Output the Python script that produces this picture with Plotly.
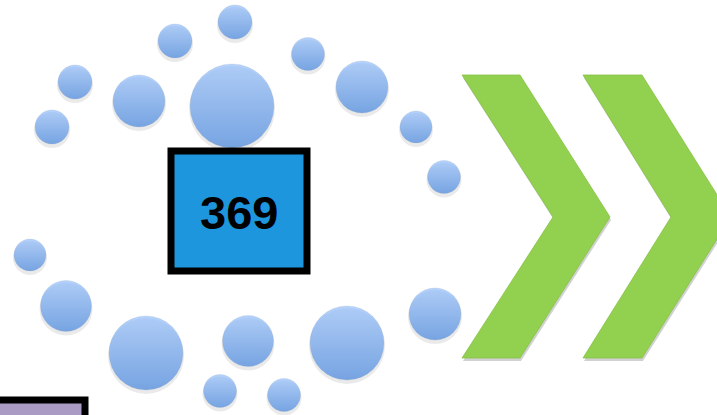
import plotly.graph_objects as go

W, H = 717, 415

# bubbles: centre x, centre y, radius (pixels)
bubble_x = [235, 175, 308, 75, 139, 232, 362, 52, 416, 444, 30, 66, 435, 146, 248, 347, 220, 284]
bubble_y = [22, 41, 54, 82, 101, 106, 87, 127, 127, 177, 255, 306, 314, 353, 341, 343, 391, 395]
bubble_r = [17, 17, 16.5, 17, 26, 42, 26, 17, 16, 16.5, 16, 25.5, 26, 37, 25.5, 37, 16.5, 16.5]

# chevrons: outline points
chevron1_x = [462, 520, 610, 520, 462, 553, 462]
chevron1_y = [75, 75, 217, 358, 358, 217, 75]
chevron2_x = [583, 642, 731, 642, 583, 671, 583]
chevron2_y = [75, 75, 217, 358, 358, 217, 75]

box_label = "369"
box_x0, box_x1, box_y0, box_y1 = 171, 307, 151, 271
purple_x0, purple_x1, purple_y0, purple_y1 = -10, 85, 400, 430

fig = go.Figure()

# soft shadows under chevrons
for cx, cy in ((chevron1_x, chevron1_y), (chevron2_x, chevron2_y)):
    fig.add_trace(
        go.Scatter(
            x=[v + 1 for v in cx],
            y=[v + 3 for v in cy],
            mode="lines",
            fill="toself",
            fillcolor="rgba(0,0,0,0.18)",
            line=dict(width=0),
            hoverinfo="skip",
        )
    )
    fig.add_trace(
        go.Scatter(
            x=cx,
            y=cy,
            mode="lines",
            fill="toself",
            fillcolor="#92D050",
            line=dict(width=0.8, color="#86C244"),
            hoverinfo="skip",
        )
    )

# bubble shadows
fig.add_trace(
    go.Scatter(
        x=bubble_x,
        y=[y + 3 for y in bubble_y],
        mode="markers",
        marker=dict(size=[2 * r + 2 for r in bubble_r], color="rgba(0,0,0,0.12)", line=dict(width=0)),
        hoverinfo="skip",
    )
)
fig.add_trace(
    go.Scatter(
        x=bubble_x,
        y=bubble_y,
        mode="markers",
        marker=dict(
            size=[2 * r for r in bubble_r],
            color="#96C0FC",
            gradient=dict(type="vertical", color="#4687DF"),
            line=dict(width=0.5, color="rgba(110,130,160,0.4)"),
        ),
        hoverinfo="skip",
    )
)

fig.add_shape(
    type="rect",
    xref="x",
    yref="y",
    x0=box_x0,
    x1=box_x1,
    y0=box_y0,
    y1=box_y1,
    fillcolor="#1E96DD",
    line=dict(color="#000000", width=7),
    layer="above",
)
fig.add_shape(
    type="rect",
    xref="x",
    yref="y",
    x0=purple_x0,
    x1=purple_x1,
    y0=purple_y0,
    y1=purple_y1,
    fillcolor="#AA9BC5",
    line=dict(color="#000000", width=7),
    layer="above",
)
fig.add_annotation(
    x=(box_x0 + box_x1) / 2,
    y=(box_y0 + box_y1) / 2 + 1,
    text=f"<b>{box_label}</b>",
    showarrow=False,
    font=dict(family="Liberation Sans, Arial, sans-serif", size=47, color="#000000"),
)

fig.update_layout(
    width=W,
    height=H,
    margin=dict(l=0, r=0, t=0, b=0),
    paper_bgcolor="#FFFFFF",
    plot_bgcolor="#FFFFFF",
    showlegend=False,
    xaxis=dict(range=[0, W], visible=False, fixedrange=True),
    yaxis=dict(range=[H, 0], visible=False, fixedrange=True),
)

fig.write_html(
    "out.html",
    config=dict(displayModeBar=False),
    post_script="document.body.style.margin='0';document.body.style.overflow='hidden';",
)
